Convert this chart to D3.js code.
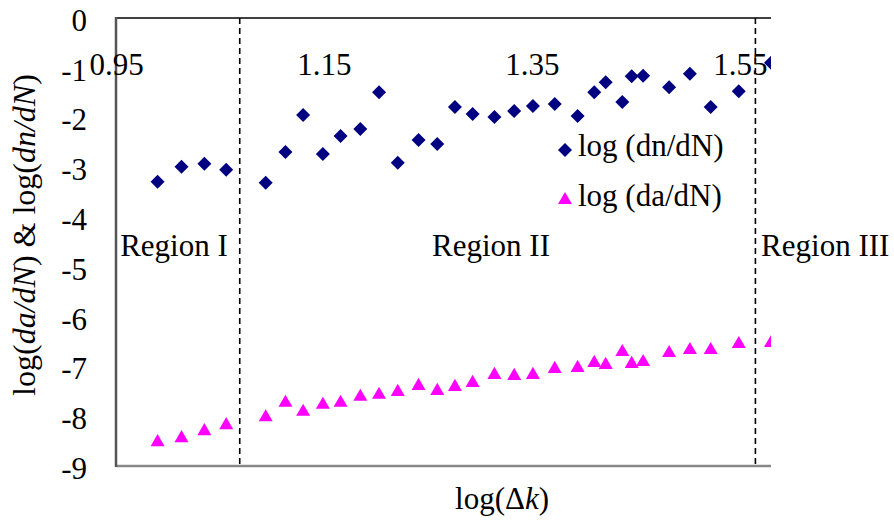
<!DOCTYPE html>
<html>
<head>
<meta charset="utf-8">
<script src="https://cdn.jsdelivr.net/npm/d3@7"></script>
<style>
  html, body { margin: 0; padding: 0; background: #fff; }
  svg { display: block; }
  svg text, svg tspan { font-family: "Liberation Serif", "Times New Roman", Tinos, serif; fill: #000; }
</style>
</head>
<body>
<svg id="chart" width="894" height="521"></svg>
<script>
// ---- data ----
const logDK = [0.990, 1.013, 1.035, 1.056, 1.094, 1.113, 1.130, 1.149, 1.166, 1.185,
               1.203, 1.221, 1.241, 1.259, 1.276, 1.293, 1.314, 1.333, 1.351, 1.372,
               1.394, 1.410, 1.421, 1.437, 1.446, 1.457, 1.482, 1.502, 1.522, 1.549, 1.580];
const logDnDN = [-3.29, -2.99, -2.93, -3.05, -3.31, -2.69, -1.95, -2.73, -2.37, -2.23,
                 -1.49, -2.91, -2.45, -2.53, -1.79, -1.93, -1.99, -1.87, -1.77, -1.73,
                 -1.97, -1.49, -1.29, -1.69, -1.17, -1.16, -1.39, -1.12, -1.79, -1.47, -0.90];
const logDaDN = [-8.52, -8.44, -8.30, -8.18, -8.02, -7.73, -7.91, -7.77, -7.73, -7.61,
                 -7.57, -7.51, -7.39, -7.49, -7.41, -7.33, -7.17, -7.19, -7.17, -7.05,
                 -7.03, -6.93, -6.97, -6.71, -6.95, -6.91, -6.73, -6.67, -6.67, -6.55, -6.53];
const xTicks = [0.95, 1.15, 1.35, 1.55];
const yTicks = [0, -1, -2, -3, -4, -5, -6, -7, -8, -9];
const regionBounds = [1.069, 1.565];
const regionLabels = [
  {text: "Region I", x: 0.954},
  {text: "Region II", x: 1.254},
  {text: "Region III", x: 1.5705}
];
const legendItems = [
  {label: "log (dn/dN)", symbol: "diamond"},
  {label: "log (da/dN)", symbol: "triangle"}
];

// ---- layout ----
const svg = d3.select("#chart");
const L = 116, R = 771, T = 18, B = 466;
const x = d3.scaleLinear().domain([0.95, 1.58]).range([L, R]);
const y = d3.scaleLinear().domain([-9, 0]).range([B, T]);
const FS = 31;
const FONT = "Liberation Serif";
const navy = "#000080", magenta = "#FF00FF";

svg.append("defs").append("clipPath").attr("id", "clip")
  .append("rect").attr("x", L).attr("y", T).attr("width", R - L).attr("height", B - T);

// frame
svg.append("line").attr("x1", L).attr("x2", R).attr("y1", T).attr("y2", T)
  .attr("stroke", "#404040").attr("stroke-width", 2);
svg.append("line").attr("x1", L).attr("x2", R).attr("y1", B).attr("y2", B)
  .attr("stroke", "#888").attr("stroke-width", 2.5);
svg.append("line").attr("x1", L).attr("x2", L).attr("y1", T - 1).attr("y2", B + 1)
  .attr("stroke", "#555").attr("stroke-width", 2.5);

// y axis tick labels
const yAxis = d3.axisLeft(y).tickValues(yTicks).tickSize(0).tickPadding(0)
  .tickFormat(d => String(d));
const gy = svg.append("g").attr("transform", `translate(${87},0)`).call(yAxis)
  .attr("font-family", FONT).attr("font-size", FS);
gy.select(".domain").remove();
gy.selectAll("text").attr("font-size", FS).attr("font-family", FONT)
  .attr("fill", "#000").attr("dy", "0.4em");

// x axis tick labels (placed along the y = -1 level)
const xAxis = d3.axisBottom(x).tickValues(xTicks).tickSize(0).tickPadding(0)
  .tickFormat(d3.format(".2f"));
const gx = svg.append("g").attr("transform", `translate(0,${y(-1) + 7})`).call(xAxis)
  .attr("font-family", FONT).attr("font-size", FS);
gx.select(".domain").remove();
gx.selectAll("text").attr("font-size", FS).attr("font-family", FONT)
  .attr("fill", "#000").attr("dy", "0");

// dashed region boundaries
svg.selectAll("line.bound").data(regionBounds).join("line").attr("class", "bound")
  .attr("x1", d => x(d)).attr("x2", d => x(d)).attr("y1", T).attr("y2", B)
  .attr("stroke", "#000").attr("stroke-width", 1.6).attr("stroke-dasharray", "6,4");

// region labels
svg.selectAll("text.region").data(regionLabels).join("text").attr("class", "region")
  .attr("x", d => x(d.x)).attr("y", 256).attr("font-size", 31).attr("font-family", FONT)
  .text(d => d.text);

// markers
const diamondPath = d3.symbol().type(d3.symbolSquare).size(98)();
const triPath = d3.symbol().type(d3.symbolTriangle).size(85)();
const gm = svg.append("g").attr("clip-path", "url(#clip)");
gm.selectAll("path.dn").data(logDK.map((d, i) => [d, logDnDN[i]])).join("path")
  .attr("class", "dn").attr("d", diamondPath).attr("fill", navy)
  .attr("transform", d => `translate(${x(d[0])},${y(d[1])}) rotate(45)`);
gm.selectAll("path.da").data(logDK.map((d, i) => [d, logDaDN[i]])).join("path")
  .attr("class", "da").attr("d", triPath).attr("fill", magenta)
  .attr("transform", d => `translate(${x(d[0])},${y(d[1])})`);

// legend
const lg = svg.append("g");
legendItems.forEach((it, i) => {
  const cy = 150 + i * 50;
  lg.append("path").attr("d", it.symbol === "diamond" ? diamondPath : triPath)
    .attr("fill", it.symbol === "diamond" ? navy : magenta)
    .attr("transform", `translate(565,${cy})` + (it.symbol === "diamond" ? " rotate(45)" : ""));
  lg.append("text").attr("x", 578).attr("y", cy + 6).attr("font-size", FS)
    .attr("font-family", FONT).text(it.label);
});

// axis titles
svg.append("text").attr("x", 502).attr("y", 509).attr("text-anchor", "middle")
  .attr("font-size", FS).attr("font-family", FONT)
  .call(t => {
    t.append("tspan").text("log(Δ");
    t.append("tspan").attr("font-style", "italic").text("k");
    t.append("tspan").text(")");
  });
svg.append("text").attr("transform", "translate(35,235) rotate(-90)")
  .attr("text-anchor", "middle").attr("font-size", 32).attr("font-family", FONT)
  .call(t => {
    t.append("tspan").text("log(");
    t.append("tspan").attr("font-style", "italic").text("da/dN");
    t.append("tspan").text(") & log(");
    t.append("tspan").attr("font-style", "italic").text("dn/dN");
    t.append("tspan").text(")");
  });
</script>
</body>
</html>
